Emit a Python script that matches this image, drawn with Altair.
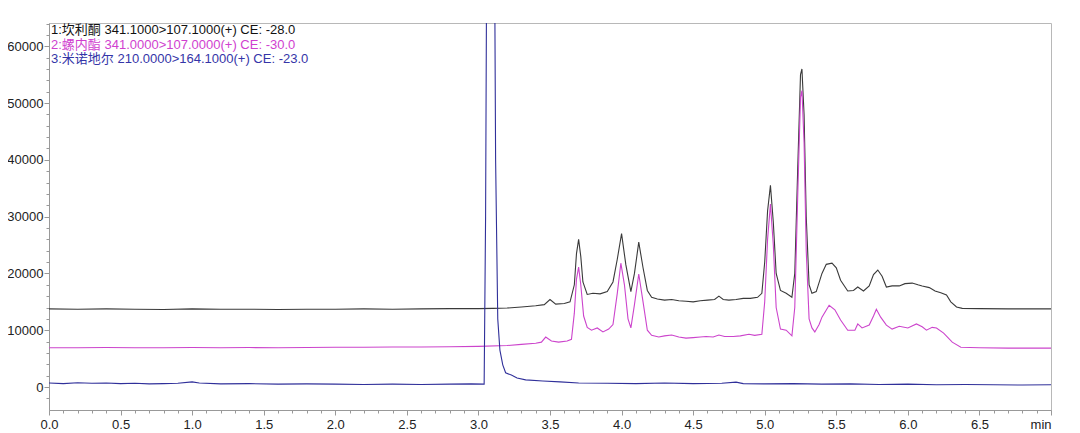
import altair as alt
import pandas as pd

# ---- data ----
t1 = [0.00, 0.20, 0.40, 0.60, 0.80, 1.00, 1.20, 1.40, 1.60, 1.80, 2.00, 2.20, 2.40, 2.60, 2.80, 3.00,
      3.10, 3.20, 3.30, 3.40, 3.46, 3.50, 3.54, 3.60, 3.64, 3.67, 3.685, 3.70, 3.715, 3.73, 3.76, 3.80,
      3.85, 3.90, 3.94, 3.97, 4.00, 4.03, 4.065, 4.09, 4.12, 4.15, 4.18, 4.21, 4.25, 4.30, 4.35, 4.40,
      4.45, 4.50, 4.55, 4.60, 4.65, 4.68, 4.71, 4.75, 4.80, 4.85, 4.90, 4.95, 4.98, 5.00, 5.02, 5.04,
      5.06, 5.08, 5.11, 5.15, 5.19, 5.21, 5.23, 5.25, 5.26, 5.275, 5.29, 5.31, 5.33, 5.36, 5.40, 5.43,
      5.47, 5.50, 5.53, 5.58, 5.62, 5.65, 5.69, 5.73, 5.76, 5.79, 5.82, 5.85, 5.89, 5.94, 5.98, 6.03,
      6.07, 6.10, 6.15, 6.19, 6.23, 6.27, 6.30, 6.34, 6.38, 6.50, 6.70, 6.90, 7.00]
v1 = [13750, 13700, 13750, 13700, 13650, 13750, 13700, 13700, 13650, 13700, 13700, 13750, 13700, 13750, 13800, 13800,
      13850, 13900, 14100, 14300, 14500, 15400, 14600, 14700, 15000, 18000, 23500, 26000, 23000, 18500, 16300, 16500,
      16400, 16800, 18500, 22500, 27000, 21500, 16800, 20000, 25500, 21000, 17000, 15800, 15500, 15300, 15400, 15200,
      15100, 15000, 15200, 15300, 15400, 16000, 15400, 15300, 15400, 15600, 15600, 15800, 16500, 22000, 31000, 35500,
      29000, 20000, 17000, 16500, 15800, 20000, 38000, 55000, 56000, 48000, 30000, 18000, 16500, 16800, 20000, 21600,
      21800, 21000, 18800, 16900, 17000, 17600, 16900, 17800, 19800, 20600, 19500, 17600, 17800, 17800, 18200, 18300,
      18000, 17800, 17500, 16900, 16600, 16200, 15000, 14100, 13850, 13800, 13750, 13750, 13750]

t2 = [0.00, 0.20, 0.40, 0.60, 0.80, 1.00, 1.20, 1.40, 1.60, 1.80, 2.00, 2.20, 2.40, 2.60, 2.80, 3.00,
      3.20, 3.30, 3.40, 3.44, 3.47, 3.51, 3.56, 3.62, 3.65, 3.67, 3.685, 3.70, 3.715, 3.735, 3.76, 3.79,
      3.83, 3.87, 3.91, 3.94, 3.97, 3.995, 4.02, 4.045, 4.065, 4.09, 4.12, 4.15, 4.18, 4.21, 4.26, 4.30,
      4.35, 4.40, 4.45, 4.50, 4.55, 4.59, 4.64, 4.68, 4.72, 4.78, 4.83, 4.89, 4.93, 4.98, 5.00, 5.02,
      5.04, 5.06, 5.08, 5.11, 5.15, 5.19, 5.21, 5.23, 5.25, 5.26, 5.275, 5.29, 5.31, 5.33, 5.35, 5.38,
      5.40, 5.45, 5.49, 5.53, 5.58, 5.63, 5.65, 5.68, 5.73, 5.76, 5.78, 5.81, 5.85, 5.89, 5.94, 6.00,
      6.06, 6.10, 6.13, 6.17, 6.20, 6.25, 6.31, 6.37, 6.50, 6.70, 6.90, 7.00]
v2 = [6900, 6900, 6950, 6900, 6900, 6950, 6900, 6950, 6900, 6950, 7000, 7000, 7050, 7050, 7100, 7150,
      7300, 7500, 7700, 7900, 8800, 8100, 7900, 8100, 8400, 13000, 19000, 21100, 18000, 12500, 10500, 10000,
      10400, 9700, 10200, 11000, 16500, 21800, 18000, 12000, 10400, 14500, 19900, 15000, 10000, 9100, 8800, 9000,
      9150, 8800, 8600, 8700, 8800, 8900, 8800, 9150, 8900, 8900, 9000, 9300, 9100, 9300, 15000, 26000,
      32200, 25000, 14000, 10200, 10000, 9000, 14000, 33000, 51000, 52200, 43000, 24000, 12000, 10400, 9700, 11000,
      12300, 14400, 13600, 11800, 10000, 10000, 11100, 10400, 10900, 12500, 13700, 12300, 10900, 10200, 10700, 10400,
      11100, 10600, 10000, 10500, 10400, 9500, 7900, 7000, 6900, 6850, 6850, 6850]

t3 = [0.00, 0.10, 0.20, 0.30, 0.40, 0.50, 0.60, 0.70, 0.80, 0.90, 1.00, 1.05, 1.20, 1.40, 1.60, 1.80,
      2.00, 2.20, 2.40, 2.60, 2.80, 2.95, 3.04, 3.05, 3.06, 3.085, 3.11, 3.12, 3.135, 3.15, 3.17, 3.19,
      3.23, 3.27, 3.33, 3.45, 3.57, 3.70, 3.90, 4.10, 4.30, 4.50, 4.70, 4.80, 4.85, 5.00, 5.20, 5.40,
      5.60, 5.80, 6.00, 6.20, 6.40, 6.60, 6.80, 7.00]
v3 = [700, 600, 750, 650, 700, 600, 650, 550, 600, 650, 900, 700, 550, 600, 500, 550,
      500, 450, 500, 450, 500, 550, 500, 30000, 90000, 200000, 90000, 40000, 12000, 6500, 3900, 2500,
      2100, 1600, 1250, 1050, 900, 700, 650, 600, 700, 600, 650, 850, 600, 550, 600, 500,
      550, 450, 500, 400, 450, 400, 350, 400]

series_names = ["1:坎利酮 341.1000>107.1000(+) CE: -28.0",
                "2:螺内酯 341.0000>107.0000(+) CE: -30.0",
                "3:米诺地尔 210.0000>164.1000(+) CE: -23.0"]
line_colors = ["#3a3a3a", "#cc44cc", "#30309a"]
text_colors = ["#111111", "#d03fd0", "#3535a8"]

x_major = [0.0, 0.5, 1.0, 1.5, 2.0, 2.5, 3.0, 3.5, 4.0, 4.5, 5.0, 5.5, 6.0, 6.5, 7.0]
x_minor = [round(i * 0.1, 1) for i in range(71) if i % 5 != 0]
y_major = [0, 10000, 20000, 30000, 40000, 50000, 60000]
y_minor = [v for v in range(-2000, 64001, 2000) if v % 10000 != 0]

df = pd.concat([
    pd.DataFrame({"t": t1, "v": v1, "s": series_names[0]}),
    pd.DataFrame({"t": t2, "v": v2, "s": series_names[1]}),
    pd.DataFrame({"t": t3, "v": v3, "s": series_names[2]}),
], ignore_index=True)

FONT = "Liberation Sans, Noto Sans CJK SC"

xscale = alt.Scale(domain=[0, 7.0], nice=False, zero=False)
yscale = alt.Scale(domain=[-4050, 64100], nice=False, zero=False)

color = alt.Color("s:N", scale=alt.Scale(domain=series_names, range=line_colors), legend=None)

main = alt.Chart(df).mark_line(strokeWidth=1.1, clip=True).encode(
    x=alt.X("t:Q", scale=xscale, title=None,
            axis=alt.Axis(values=x_major, orient="bottom", grid=False, tickSize=5,
                          labelPadding=3, labelFlush=False, labelOverlap=False,
                          labelExpr="datum.value >= 7 ? 'min' : format(datum.value, '.1f')",
                          labelAlign={"condition": {"test": "datum.value >= 7", "value": "right"},
                                      "value": "center"})),
    y=alt.Y("v:Q", scale=yscale, title=None,
            axis=alt.Axis(values=y_major, orient="left", grid=False, tickSize=5,
                          labelPadding=1, format="d", labelOverlap=False, labelFlush=False)),
    color=color,
    order=alt.Order("t:Q"),
    detail="s:N",
)

minor = alt.Chart(df).mark_line(strokeWidth=1, opacity=0).encode(
    x=alt.X("t:Q", scale=xscale, title=None,
            axis=alt.Axis(values=x_minor, orient="bottom", grid=False, tickSize=3,
                          labels=False, domain=False)),
    y=alt.Y("v:Q", scale=yscale, title=None,
            axis=alt.Axis(values=y_minor, orient="left", grid=False, tickSize=3,
                          labels=False, domain=False)),
    detail="s:N",
)

one = pd.DataFrame({"k": [0]})
text_y = [7, 22, 36]
texts = [
    alt.Chart(one).mark_text(align="left", baseline="middle", fontSize=13, font=FONT,
                             color=text_colors[i]).encode(
        x=alt.value(2), y=alt.value(text_y[i]), text=alt.value(series_names[i]))
    for i in range(3)
]

chart = alt.layer(main, minor, *texts).resolve_axis(
    x="independent", y="independent"
).properties(
    width=1002, height=387,
    autosize=alt.AutoSizeParams(type="none"),
    padding={"left": 41, "top": 15, "right": 20, "bottom": 20},
    background="white",
).configure_view(
    stroke="#b8b8b8", strokeWidth=1
).configure_axis(
    labelFont=FONT, labelFontSize=13, labelColor="#222222",
    domainColor="#999999", tickColor="#999999", domainWidth=1, tickWidth=1,
)

chart.save("out.html", embed_options={"renderer": "svg", "actions": False})
